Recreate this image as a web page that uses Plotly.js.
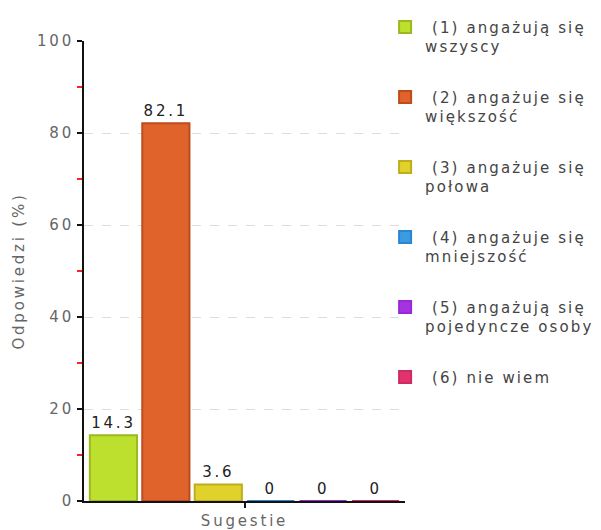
<!DOCTYPE html>
<html>
<head>
<meta charset="utf-8">
<script src="https://cdn.plot.ly/plotly-3.0.1.min.js"></script>
<style>
  html, body { margin: 0; padding: 0; background: #fff; }
  svg text { letter-spacing: 2.8px; }
  svg text.legendtext { letter-spacing: 2.1px; }
</style>
</head>
<body>
<div id="chart" style="width:601px;height:530px;"></div>
<script>
const category = 'Sugestie';
const seriesNames = [
  '\u00a0(1) angażują się<br>wszyscy',
  '\u00a0(2) angażuje się<br>większość',
  '\u00a0(3) angażuje się<br>połowa',
  '\u00a0(4) angażuje się<br>mniejszość',
  '\u00a0(5) angażują się<br>pojedyncze osoby',
  '\u00a0(6) nie wiem'
];
const seriesValues = [14.3, 82.1, 3.6, 0, 0, 0];
const fillColors = ['#bde02e', '#e0632c', '#e0d22a', '#3a9be0', '#a633e0', '#e0336f'];
const edgeColors = ['#9cb81e', '#bf4a1b', '#bfae1c', '#2a86d0', '#9a28d8', '#d02a62'];
const yTicks = [0, 20, 40, 60, 80, 100];

const FONT = 'DejaVu Sans';

const traces = seriesNames.map((name, i) => ({
  type: 'bar',
  name: name,
  x: [category],
  y: [seriesValues[i]],
  text: [String(seriesValues[i])],
  textposition: 'outside',
  cliponaxis: false,
  textfont: { family: FONT, size: 15, color: '#222' },
  marker: { color: fillColors[i], line: { color: edgeColors[i], width: 2 } },
  legendgroup: 'g' + i,
  hoverinfo: 'none'
}));

const layout = {
  width: 601,
  height: 530,
  margin: { l: 84, r: 196, t: 41, b: 29, autoexpand: false },
  paper_bgcolor: '#fff',
  plot_bgcolor: '#fff',
  font: { family: FONT, size: 15, color: '#666' },
  barmode: 'group',
  bargap: 0.02,
  bargroupgap: 0.1,
  showlegend: true,
  legend: {
    x: 0.938, xanchor: 'left',
    y: 1.066, yanchor: 'top',
    valign: 'top',
    traceorder: 'grouped',
    tracegroupgap: 28,
    maxheight: 1000,
    font: { family: FONT, size: 15, color: '#444' },
    bgcolor: 'rgba(0,0,0,0)'
  },
  xaxis: {
    type: 'category',
    showline: true, linecolor: '#111', linewidth: 2,
    ticks: 'outside', ticklen: 5, tickcolor: '#111', tickwidth: 2,
    showgrid: false,
    tickfont: { family: FONT, size: 15, color: '#666' },
    fixedrange: true
  },
  yaxis: {
    range: [0, 100],
    tickvals: yTicks,
    ticktext: yTicks.map(String),
    showline: true, linecolor: '#111', linewidth: 2,
    ticks: 'outside', ticklen: 5, tickcolor: '#111', tickwidth: 2,
    minor: { dtick: 10, ticks: 'outside', ticklen: 5, tickcolor: '#ff2020', tickwidth: 2, showgrid: false },
    showgrid: true, gridcolor: '#dddddd', gridwidth: 1, griddash: 'dash',
    zeroline: false,
    tickfont: { family: FONT, size: 15, color: '#666' },
    title: { text: 'Odpowiedzi (%)', font: { family: FONT, size: 15, color: '#666' }, standoff: 9 },
    fixedrange: true
  },
  yaxis2: {
    overlaying: 'y', anchor: 'x', side: 'left',
    range: [0, 100],
    tickvals: yTicks,
    ticks: 'inside', ticklen: 5, tickcolor: '#111', tickwidth: 2,
    showticklabels: false, showgrid: false, showline: false, zeroline: false
  },
  xaxis2: {
    overlaying: 'x', anchor: 'y', side: 'bottom',
    type: 'linear', range: [-0.5, 0.5],
    tickvals: [0],
    ticks: 'inside', ticklen: 5, tickcolor: '#111', tickwidth: 2,
    showticklabels: false, showgrid: false, showline: false, zeroline: false
  }
};

Plotly.newPlot('chart', traces, layout, { staticPlot: true, displayModeBar: false });
</script>
</body>
</html>
